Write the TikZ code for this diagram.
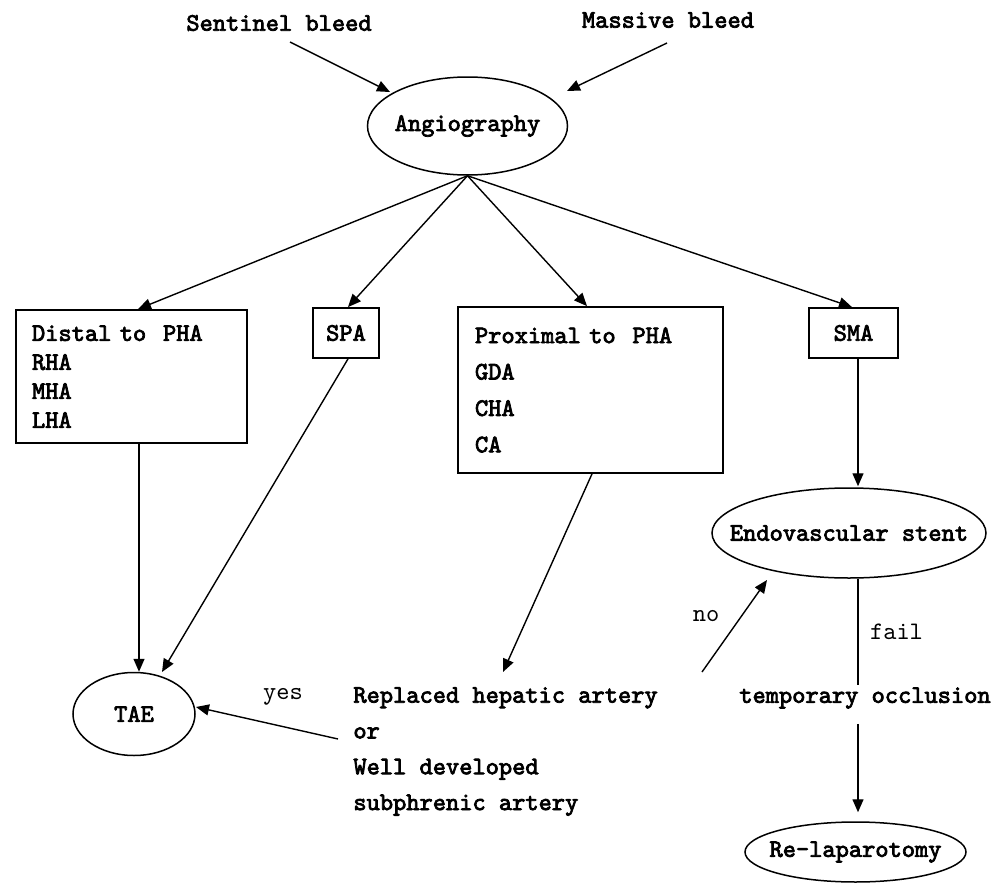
\documentclass[tikz,border=0pt]{standalone}
\usepackage{fontspec}
\setmonofont{lmmono10-regular.otf}[AutoFakeBold=3]
\usetikzlibrary{arrows.meta,shapes.geometric,calc}
\begin{document}
\begin{tikzpicture}[x=0.5pt,y=-0.5pt,
  every node/.style={inner sep=0pt, font=\ttfamily\bfseries\fontsize{12.6}{15}\selectfont},
  lab/.style={font=\ttfamily\mdseries\fontsize{12.6}{15}\selectfont},
  box/.style={draw, line width=0.9pt},
  oval/.style={draw, ellipse, line width=0.75pt},
  arr/.style={line width=0.7pt, -{Triangle[length=6.5pt,width=5.5pt]}},
  ln/.style={line width=0.7pt}]
\useasboundingbox (0,0) rectangle (1003,884);

% nodes
\node (sent) at (279,23) {Sentinel bleed};
\node (mass) at (668,20) {Massive bleed};
\node[oval, minimum width=100pt, minimum height=49pt] (angio) at (467.5,126) {\makebox[0pt]{Angiography}};
\node[box, minimum width=115.5pt, minimum height=66.5pt, inner xsep=8pt, text width=99.5pt, align=left,
      font=\ttfamily\bfseries\fontsize{12.6}{14.5}\selectfont] (distal) at (131.5,376.5) {Distal to\ \ PHA\\RHA\\MHA\\LHA};
\node[box, minimum width=33pt, minimum height=25pt] (spa) at (346,333) {SPA};
\node[box, minimum width=132.5pt, minimum height=83pt, inner xsep=8.5pt, text width=115.5pt, align=left,
      font=\ttfamily\bfseries\fontsize{12.6}{18.2}\selectfont] (prox) at (590.5,390) {Proximal to\ \ PHA\\GDA\\CHA\\CA};
\node[box, minimum width=44.5pt, minimum height=25pt] (sma) at (853.5,333) {SMA};
\node[oval, minimum width=137pt, minimum height=45pt] (endo) at (849,533) {\makebox[0pt]{Endovascular stent}};
\node[oval, minimum width=61pt, minimum height=41.5pt] (tae) at (134,714) {\makebox[0pt]{TAE}};
\node[anchor=west, align=left, font=\ttfamily\bfseries\fontsize{12.6}{17.9}\selectfont] (repl) at (353,751.5)
      {Replaced hepatic artery\\or\\Well developed\\subphrenic artery};
\node (temp) at (865,698) {temporary occlusion};
\node[oval, minimum width=110.5pt, minimum height=30pt] (relap) at (855.5,852) {\makebox[0pt]{Re-laparotomy}};

% labels
\node[lab] (yes) at (283,697) {yes};
\node[lab] (no) at (706,616) {no};
\node[lab] (fail) at (896.5,632) {fail};

% free ends
\coordinate (ptip) at (503,672);
\coordinate (ntail) at (702,672);
\coordinate (fend) at ($(endo.south)+(9,106)$);
\coordinate (tstart) at ($(endo.south)+(9,145)$);

% connectors
\draw[arr] ($(sent)+(11,19)$) -- ($(angio)+(-77.5,-34)$);
\draw[arr] ($(mass)+(-1,23)$) -- ($(angio)+(99.5,-35)$);
\draw[arr] (angio.south) -- ($(distal.north)+(6.5,0)$);
\draw[arr] (angio.south) -- ($(spa.north)+(2,0)$);
\draw[arr] (angio.south) -- ($(prox.north)+(-3.5,0)$);
\draw[arr] (angio.south) -- ($(sma.north)+(-1.5,0)$);
\draw[arr] ($(distal.south)+(7.5,0)$) -- ($(tae.north)+(5,0)$);
\draw[arr] ($(spa.south)+(2,0)$) -- ($(tae)+(28,-42)$);
\draw[arr] ($(prox.south)+(1.5,0)$) -- (ptip);
\draw[arr] ($(repl.west)+(-15,-12.5)$) -- ($(tae)+(62,-7)$);
\draw[arr] (ntail) -- ($(endo)+(-82,47)$);
\draw[arr] ($(sma.south)+(4.5,0)$) -- ($(endo.north)+(9,-1)$);
\draw[ln] ($(endo.south)+(9,0)$) -- (fend);
\draw[arr] (tstart) -- ($(relap.north)+(2.5,-9)$);
\end{tikzpicture}
\end{document}
